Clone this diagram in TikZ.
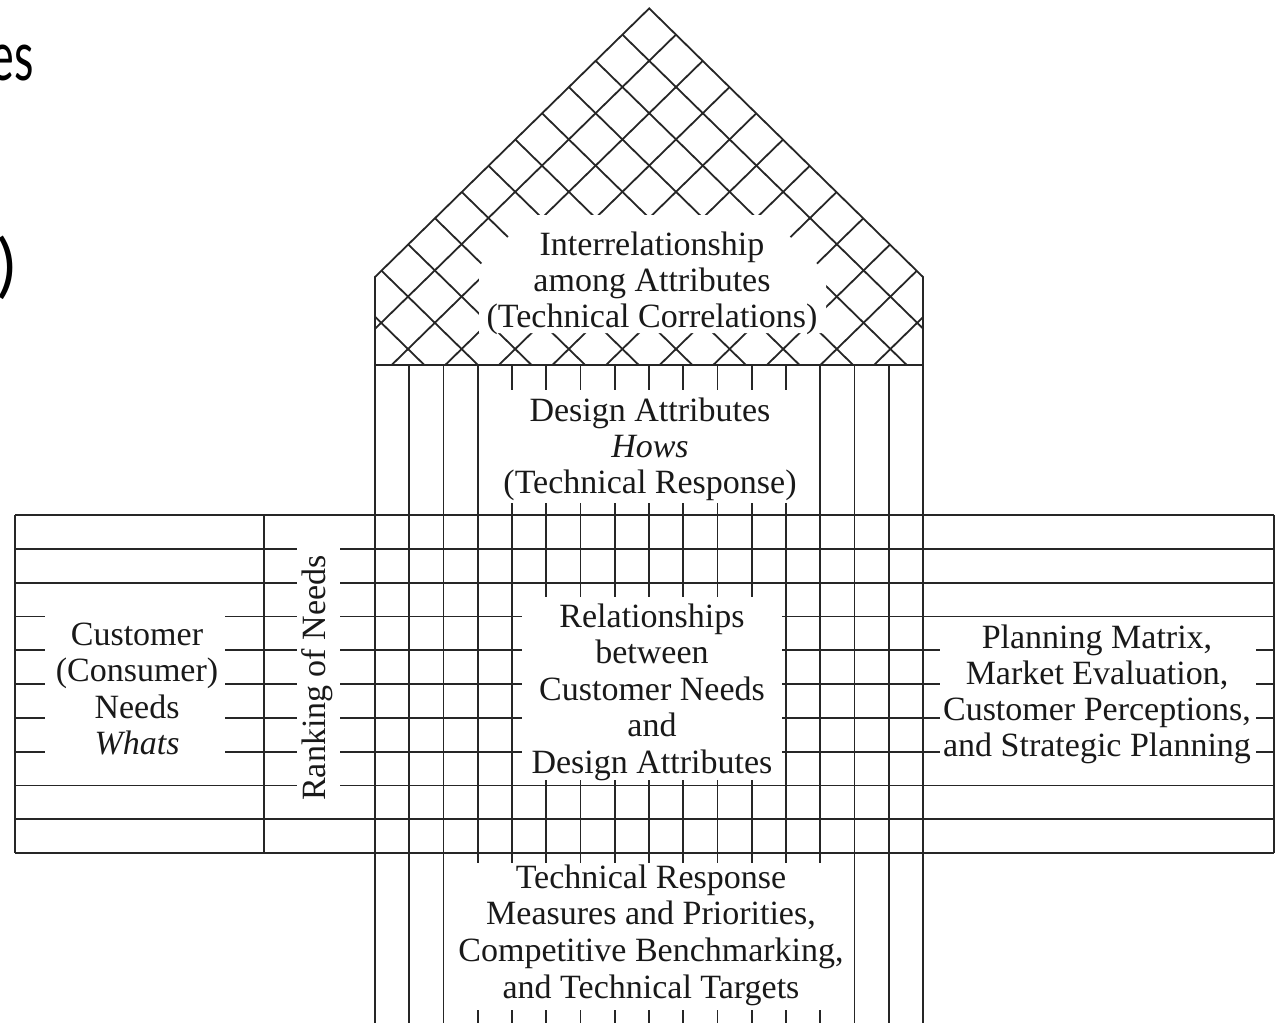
\documentclass[tikz,border=0pt]{standalone}
\usepackage{fontspec}
\setmainfont{Liberation Serif}
\newfontfamily\fragfont{Lato}
\begin{document}
\begin{tikzpicture}[x=0.5pt,y=-0.5pt,
  grid/.style={line width=0.9pt, draw=black!85},
  txt/.style={font=\fontsize{17}{18.25}\selectfont, text=black!90, inner sep=0pt, anchor=base},
  cutout/.style={fill=white, draw=none},
  frag/.style={font=\fragfont\fontsize{34.5}{40}\selectfont, text=black, inner sep=0pt, anchor=base east}]
\useasboundingbox (0,0) rectangle (1276,1023);
\fill[white] (0,0) rectangle (1276,1023);

% cut-off lettering at the left margin
\begin{scope}
  \clip (0,0) rectangle (1276,1023);
  \node[frag] (fragA) at (34,80) {\scalebox{0.65}[1]{es}};
  \node[frag] (fragB) at (16,289) {)};
\end{scope}

% horizontal rows of the wings and the relationship matrix
\foreach \r in {0,...,10}
  \draw[grid] (15,{515+33.8*\r}) -- (1274,{515+33.8*\r});
\draw[grid] (15,515) -- (15,853);
\draw[grid] (264,515) -- (264,853);
\draw[grid] (1274,515) -- (1274,853);

% columns of the house
\foreach \k in {1,...,15}
  \draw[grid] ({375+34.25*\k},365) -- ({375+34.25*\k},1023);
\draw[grid] (375,1023) -- (375,277) -- (649.2,8.4) -- (923,277) -- (923,1023);
\draw[grid] (375,365) -- (923,365);

% diagonal lattice of the roof
\begin{scope}
  \clip (375,365) -- (375,277) -- (649.2,8.4) -- (923,277) -- (923,365) -- cycle;
  \foreach \c in {-11,-9,...,11} {
    \draw[grid] ({649.2-26.8*12},{349-26.2*(-12-(\c))}) -- ({649.2+26.8*12},{349-26.2*(12-(\c))});
    \draw[grid] ({649.2-26.8*12},{349-26.2*((\c)+12)}) -- ({649.2+26.8*12},{349-26.2*((\c)-12)});
  }
\end{scope}

% blank areas behind the labels
\fill[cutout] (479,333) -- (479,266) -- (530,215) -- (768,215) -- (826,273) -- (826,333) -- cycle;
\fill[cutout] (495,390) rectangle (803,503);
\fill[cutout] (522,597) rectangle (782,780);
\fill[cutout] (460,863) rectangle (838,1010);
\fill[cutout] (45,600) rectangle (225,768);
\fill[cutout] (297,532) rectangle (340,800);
\fill[cutout] (940,632) rectangle (1256,768);

% roof
\node[txt] (roof1) at (652,255) {Interrelationship};
\node[txt] (roof2) at (652,291) {among Attributes};
\node[txt] (roof3) at (652,327) {(Technical Correlations)};

% design attributes
\node[txt] (how1) at (650,421) {Design Attributes};
\node[txt] (how2) at (650,457) {\itshape Hows};
\node[txt] (how3) at (650,493) {(Technical Response)};

% relationship matrix
\node[txt] (rel1) at (652,627) {Relationships};
\node[txt] (rel2) at (652,663.5) {between};
\node[txt] (rel3) at (652,700) {Customer Needs};
\node[txt] (rel4) at (652,736.5) {and};
\node[txt] (rel5) at (652,773) {Design Attributes};

% customer needs
\node[txt] (what1) at (137,645) {Customer};
\node[txt] (what2) at (137,681.5) {(Consumer)};
\node[txt] (what3) at (137,718) {Needs};
\node[txt] (what4) at (137,754.5) {\itshape Whats};

% ranking column
\node[txt, rotate=90] (rank) at (325,678) {Ranking of Needs};

% planning matrix
\node[txt] (plan1) at (1097,648) {Planning Matrix,};
\node[txt] (plan2) at (1097,684) {Market Evaluation,};
\node[txt] (plan3) at (1097,720) {Customer Perceptions,};
\node[txt] (plan4) at (1097,756) {and Strategic Planning};

% technical targets
\node[txt] (tgt1) at (651,888) {Technical Response};
\node[txt] (tgt2) at (651,924) {Measures and Priorities,};
\node[txt] (tgt3) at (651,961) {Competitive Benchmarking,};
\node[txt] (tgt4) at (651,998) {and Technical Targets};
\end{tikzpicture}
\end{document}
